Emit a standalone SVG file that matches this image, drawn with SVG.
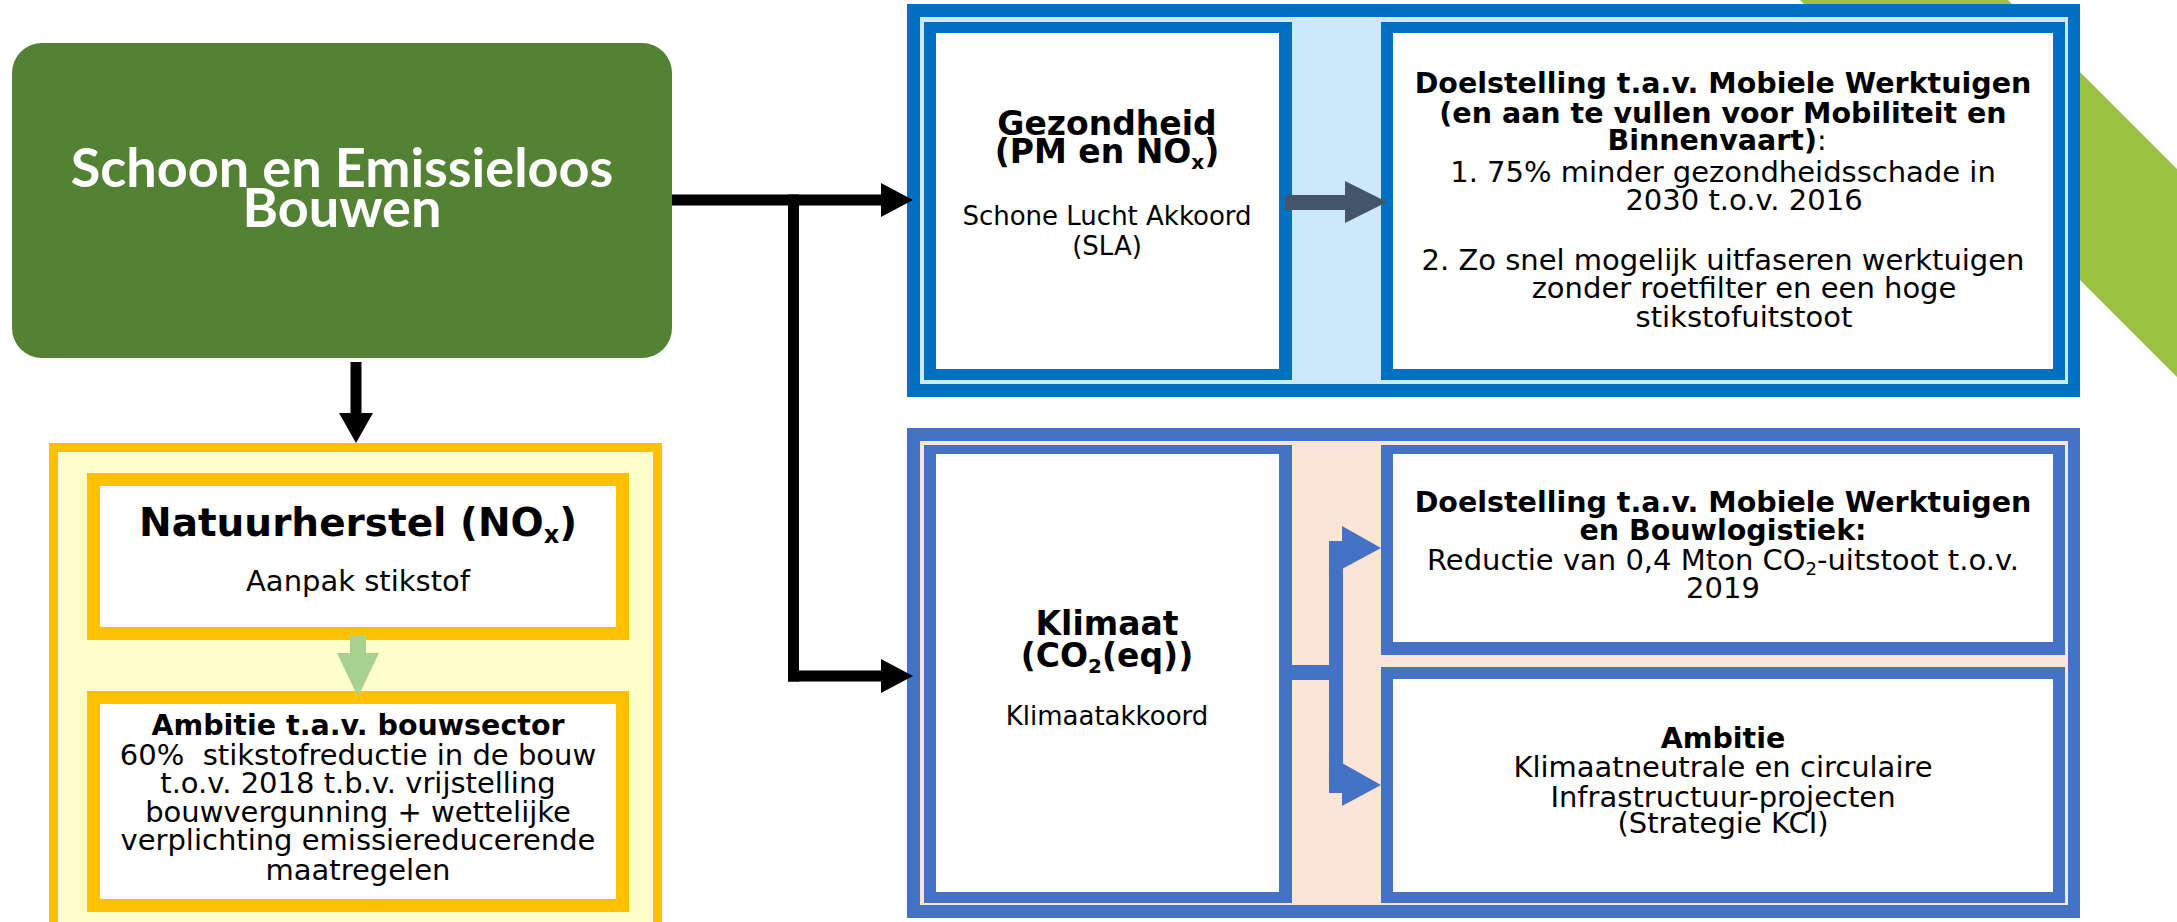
<svg xmlns="http://www.w3.org/2000/svg" width="2177" height="922" viewBox="0 0 2177 922">
<style>
.t{font-family:"DejaVu Sans",Verdana,sans-serif;fill:#000;text-anchor:middle}
.b{font-weight:bold}
.n{font-weight:normal}
.w{font-family:Lato,"Open Sans",sans-serif;font-weight:bold;fill:#fff;text-anchor:middle;font-size:54px}
.blk{fill:#000}
</style>
<rect width="2177" height="922" fill="#fff"/>
<polygon points="1800,0 2008,0 2177,169 2177,377" fill="#9BC242"/>

<g id="node-main">
<rect x="12" y="43" width="660" height="315" rx="30" fill="#548235"/>
<text class="w"><tspan x="342" y="187">Schoon en Emissieloos</tspan><tspan x="342" y="227">Bouwen</tspan></text>
</g>

<g id="node-natuur-panel">
<rect x="53.5" y="447.5" width="604" height="500" fill="#FFFFCC" stroke="#FFC000" stroke-width="9"/>
</g>
<g id="node-natuurherstel">
<rect x="93.5" y="479.5" width="529" height="154" fill="#fff" stroke="#FFC000" stroke-width="13"/>
<text class="t b" x="358" y="536" font-size="39">Natuurherstel (NO<tspan font-size="24" dy="7">x</tspan><tspan dy="-7">)</tspan></text>
<text class="t" x="358" y="591" font-size="29">Aanpak stikstof</text>
</g>
<g id="node-ambitie-bouw">
<rect x="93.5" y="697.5" width="529" height="208" fill="#fff" stroke="#FFC000" stroke-width="13"/>
<text class="t" font-size="29" style="white-space:pre"><tspan class="b" x="358" y="735" font-size="28.5">Ambitie t.a.v. bouwsector</tspan><tspan x="358" y="765">60%  stikstofreductie in de bouw</tspan><tspan x="358" y="793">t.o.v. 2018 t.b.v. vrijstelling</tspan><tspan x="358" y="822">bouwvergunning + wettelijke</tspan><tspan x="358" y="850">verplichting emissiereducerende</tspan><tspan x="358" y="880">maatregelen</tspan></text>
</g>

<g id="node-gezond-panel">
<rect x="907" y="4" width="1173" height="393" fill="#0070C0"/>
<rect x="920" y="17" width="1148" height="367" fill="#CCE9FB"/>
</g>
<g id="node-gezondheid">
<rect x="924" y="22" width="368" height="358" fill="#0070C0"/>
<rect x="936" y="33" width="343" height="336" fill="#fff"/>
<text class="t b" font-size="33"><tspan x="1107" y="135">Gezondheid</tspan><tspan x="1107" y="163">(PM en NO</tspan><tspan font-size="20" dy="6">x</tspan><tspan dy="-6">)</tspan></text>
<text class="t" font-size="26"><tspan x="1107" y="225">Schone Lucht Akkoord</tspan><tspan x="1107" y="255">(SLA)</tspan></text>
</g>
<g id="node-doel-gezond">
<rect x="1381" y="22" width="684" height="358" fill="#0070C0"/>
<rect x="1393" y="33" width="660" height="336" fill="#fff"/>
<text class="t" font-size="29"><tspan class="b" font-size="28.5" x="1723" y="93">Doelstelling t.a.v. Mobiele Werktuigen</tspan><tspan class="b" font-size="28.5" x="1723" y="123">(en aan te vullen voor Mobiliteit en</tspan><tspan class="b" font-size="28.5" x="1717" y="150">Binnenvaart)</tspan><tspan font-size="28.5">:</tspan><tspan x="1723" y="182">1. 75% minder gezondheidsschade in</tspan><tspan x="1744" y="210">2030 t.o.v. 2016</tspan><tspan x="1723" y="270">2. Zo snel mogelijk uitfaseren werktuigen</tspan><tspan x="1744" y="298">zonder roetfilter en een hoge</tspan><tspan x="1744" y="327">stikstofuitstoot</tspan></text>
</g>

<g id="node-klimaat-panel">
<rect x="907" y="428" width="1173" height="490" fill="#4472C4"/>
<rect x="920" y="441" width="1148" height="464" fill="#FBE5D6"/>
</g>
<g id="node-klimaat">
<rect x="924" y="445" width="368" height="458" fill="#4472C4"/>
<rect x="936" y="454" width="343" height="438" fill="#fff"/>
<text class="t b" font-size="33"><tspan x="1107" y="635">Klimaat</tspan><tspan x="1107" y="667">(CO</tspan><tspan font-size="20" dy="6">2</tspan><tspan dy="-6">(eq))</tspan></text>
<text class="t" x="1107" y="725" font-size="26">Klimaatakkoord</text>
</g>
<g id="node-doel-klimaat">
<rect x="1381" y="445" width="684" height="210" fill="#4472C4"/>
<rect x="1393" y="454" width="660" height="188" fill="#fff"/>
<text class="t" font-size="29"><tspan class="b" font-size="28.5" x="1723" y="512">Doelstelling t.a.v. Mobiele Werktuigen</tspan><tspan class="b" font-size="28.5" x="1723" y="540">en Bouwlogistiek:</tspan><tspan x="1723" y="570">Reductie van 0,4 Mton CO</tspan><tspan font-size="18" dy="5">2</tspan><tspan dy="-5">-uitstoot t.o.v.</tspan><tspan x="1723" y="598">2019</tspan></text>
</g>
<g id="node-ambitie-klimaat">
<rect x="1381" y="667" width="684" height="236" fill="#4472C4"/>
<rect x="1393" y="679" width="660" height="213" fill="#fff"/>
<text class="t" font-size="29"><tspan class="b" font-size="28.5" x="1723" y="748">Ambitie</tspan><tspan x="1723" y="777">Klimaatneutrale en circulaire</tspan><tspan x="1723" y="807">Infrastructuur-projecten</tspan><tspan x="1723" y="833">(Strategie KCI)</tspan></text>
</g>

<g id="connectors">
<rect class="blk" x="672" y="194.5" width="210" height="11"/>
<polygon class="blk" points="881,183 913,200 881,217"/>
<rect class="blk" x="788" y="194.5" width="11" height="487"/>
<rect class="blk" x="788" y="670.5" width="94" height="11"/>
<polygon class="blk" points="881,659 913,676 881,693"/>
<rect class="blk" x="350.5" y="362" width="11" height="52"/>
<polygon class="blk" points="339,413 373,413 356,443"/>
<rect x="350" y="635" width="16" height="19" fill="#A9D18E"/>
<polygon points="337,653 379,653 358,697" fill="#A9D18E"/>
<rect x="1285" y="195" width="61" height="15" fill="#44546A"/>
<polygon points="1345,181 1387,202 1345,223" fill="#44546A"/>
<rect x="1292" y="665" width="51" height="15" fill="#4472C4"/>
<rect x="1329" y="541" width="14" height="252" fill="#4472C4"/>
<polygon points="1342,526 1381,548 1342,569" fill="#4472C4"/>
<polygon points="1342,763 1381,785 1342,806" fill="#4472C4"/>
</g>
</svg>
